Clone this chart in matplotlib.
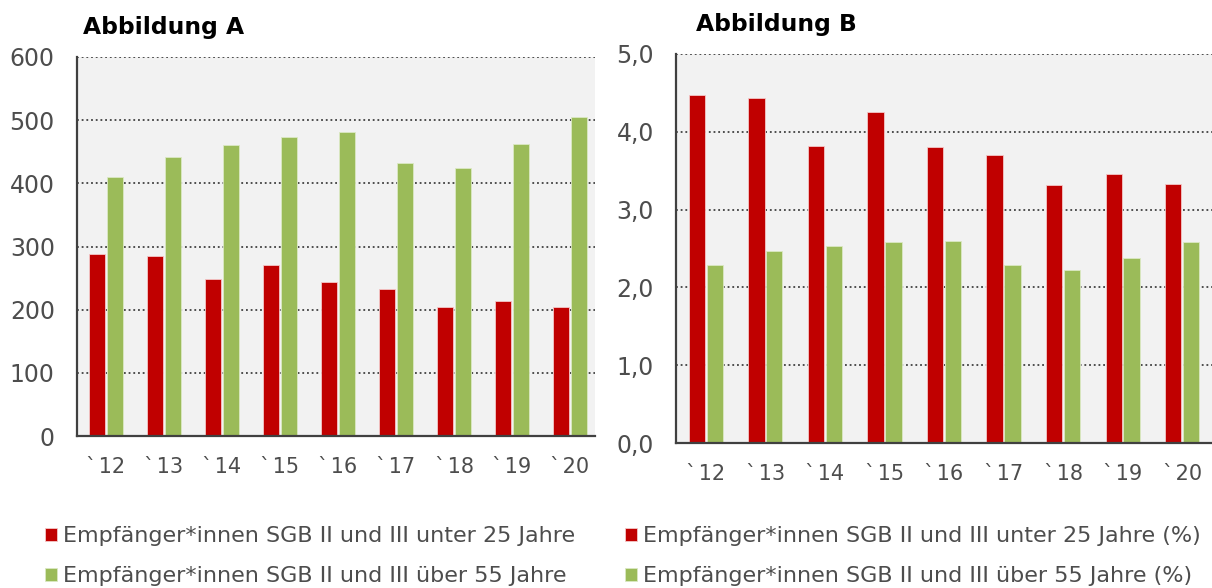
import numpy as np
import matplotlib
matplotlib.use('Agg')
import matplotlib.pyplot as plt
from matplotlib.ticker import FuncFormatter

years = ['`\u200a12', '`\u200a13', '`\u200a14', '`\u200a15', '`\u200a16',
         '`\u200a17', '`\u200a18', '`\u200a19', '`\u200a20']

# Abbildung A: Empfaenger*innen in absolute numbers
under25_abs = [288, 285, 248, 270, 244, 232, 205, 213, 204]
over55_abs = [410, 441, 460, 473, 482, 432, 424, 462, 505]

# Abbildung B: shares in percent
under25_pct = [4.47, 4.43, 3.82, 4.25, 3.81, 3.70, 3.31, 3.46, 3.33]
over55_pct = [2.29, 2.47, 2.53, 2.58, 2.59, 2.29, 2.22, 2.38, 2.58]

labels_a = ['Empfänger*innen SGB II und III unter 25 Jahre',
            'Empfänger*innen SGB II und III über 55 Jahre']
labels_b = ['Empfänger*innen SGB II und III unter 25 Jahre (%)',
            'Empfänger*innen SGB II und III über 55 Jahre (%)']

RED = '#c00000'
GREEN = '#9bbb59'
GREY = '#404040'
TEXT = '#4d4d4d'

plt.rcParams['font.family'] = 'DejaVu Sans'

W, H = 1212, 588
fig = plt.figure(figsize=(W / 100, H / 100), dpi=100)


def px_axes(left, top, right, bottom):
    return fig.add_axes([left / W, 1 - bottom / H, (right - left) / W, (bottom - top) / H])


def draw_panel(ax, red_vals, green_vals, ymax, step, fmt, xmax):
    x = np.arange(len(years))
    w = 0.275
    ax.set_facecolor('#f2f2f2')
    b1 = ax.bar(x - 0.15, red_vals, w, color=RED, edgecolor='#f4c8c8', linewidth=0.6, zorder=3)
    b2 = ax.bar(x + 0.15, green_vals, w, color=GREEN, edgecolor='#dbe8c4', linewidth=0.6, zorder=3)
    ax.set_xlim(-0.5, xmax)
    ax.set_ylim(0, ymax)
    ax.set_yticks(np.arange(0, ymax + step / 2, step))
    ax.yaxis.set_major_formatter(FuncFormatter(fmt))
    ax.set_xticks(x)
    ax.set_xticklabels(years)
    ax.tick_params(axis='y', length=0, pad=16, labelsize=17, labelcolor=TEXT)
    ax.tick_params(axis='x', length=0, pad=15, labelsize=15, labelcolor=TEXT)
    ax.yaxis.grid(True, color=GREY, linestyle=(0, (1, 1.6)), linewidth=1.3, zorder=1)
    ax.set_axisbelow(True)
    for s in ['top', 'right']:
        ax.spines[s].set_visible(False)
    for s in ['left', 'bottom']:
        ax.spines[s].set_color(GREY)
        ax.spines[s].set_linewidth(1.6)
        ax.spines[s].set_zorder(4)
    return b1, b2


ax_a = px_axes(77, 57, 595, 436)
bars_a = draw_panel(ax_a, under25_abs, over55_abs, 600, 100,
                    lambda v, p: '%d' % v, 8.43)

ax_b = px_axes(676, 54, 1212, 443)
bars_b = draw_panel(ax_b, under25_pct, over55_pct, 5.0, 1.0,
                    lambda v, p: ('%.1f' % v).replace('.', ','), 8.5)

fig.text(83 / W, 1 - 34 / H, 'Abbildung A', fontsize=16.8, fontweight='bold',
         color='black', va='baseline', ha='left')
fig.text(696 / W, 1 - 31 / H, 'Abbildung B', fontsize=16.8, fontweight='bold',
         color='black', va='baseline', ha='left')

for bars, labels, xpos in [(bars_a, labels_a, 45), (bars_b, labels_b, 625)]:
    fig.legend(bars, labels, loc='upper left', bbox_to_anchor=(xpos / W, 1 - 526 / H),
               frameon=False, fontsize=16, labelcolor=TEXT,
               handlelength=0.54, handleheight=0.54, handletextpad=0.27,
               labelspacing=0.92, borderpad=0, borderaxespad=0)

fig.savefig('out.png', dpi=100)
